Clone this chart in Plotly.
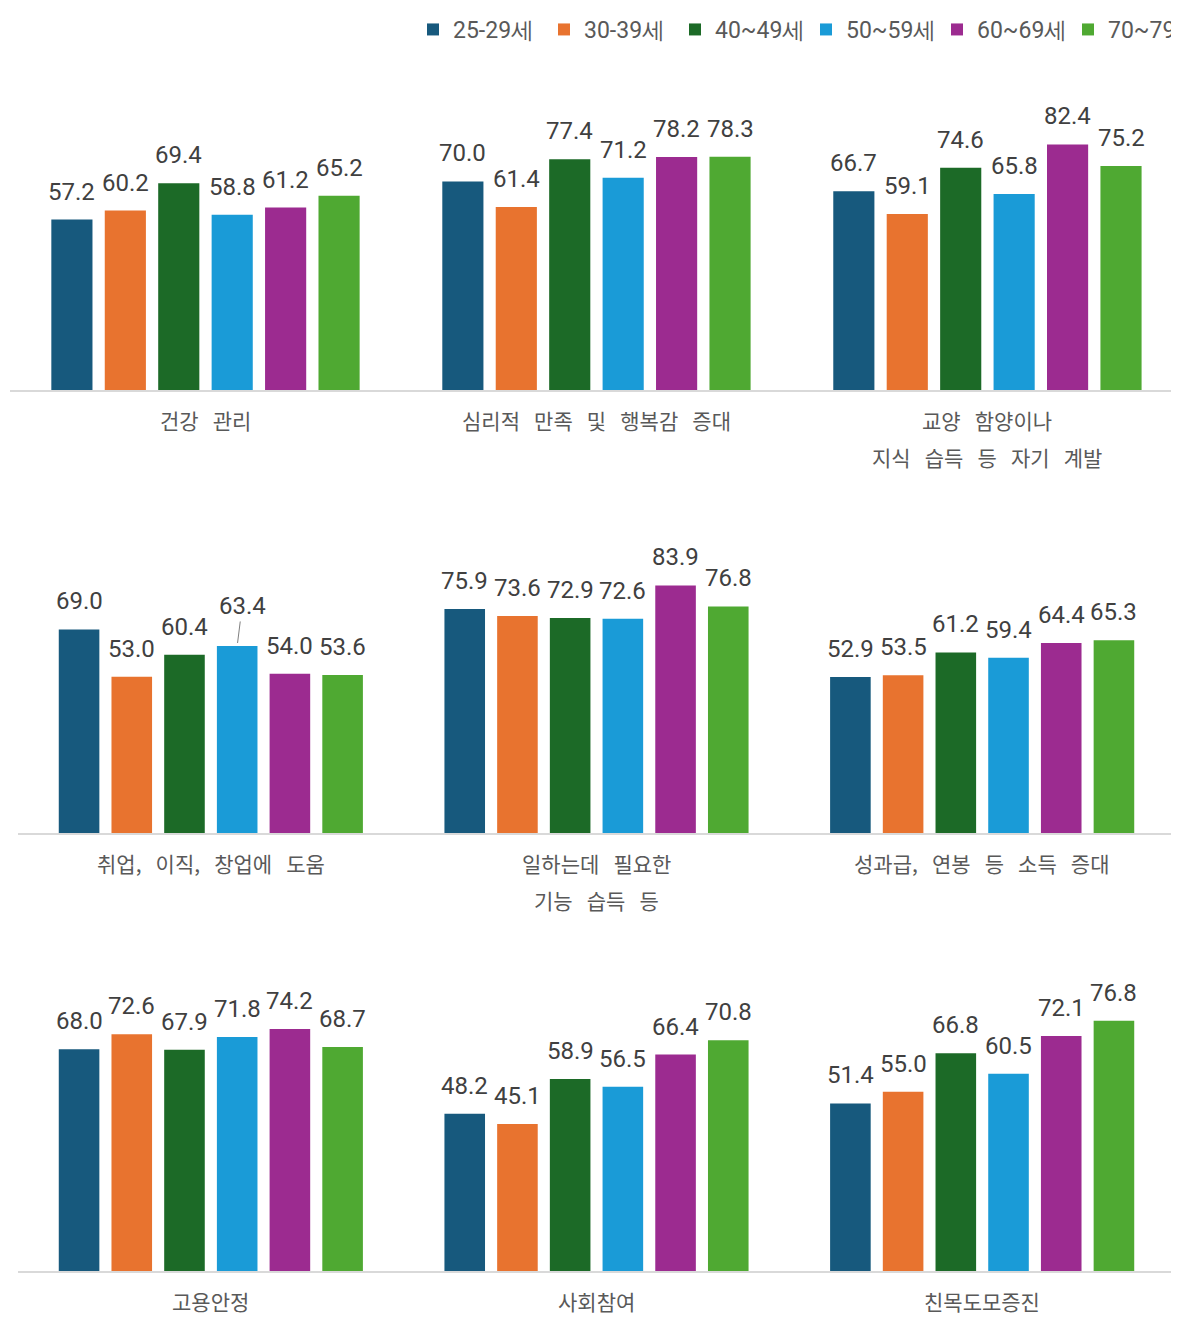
import plotly.graph_objects as go

# === 데이터 ===
groups = ["25-29세", "30-39세", "40~49세", "50~59세", "60~69세", "70~79세"]
colors = ["#17597d", "#e8732f", "#1c6a27", "#1a9bd7", "#9c2b90", "#4fa932"]

cats_row1 = ["건강 관리", "심리적 만족 및 행복감 증대", "교양 함양이나\n지식 습득 등 자기 계발"]
cats_row2 = ["취업, 이직, 창업에 도움", "일하는데 필요한\n기능 습득 등", "성과급, 연봉 등 소득 증대"]
cats_row3 = ["고용안정", "사회참여", "친목도모증진"]

v_25_29 = [57.2, 70.0, 66.7, 69.0, 75.9, 52.9, 68.0, 48.2, 51.4]
v_30_39 = [60.2, 61.4, 59.1, 53.0, 73.6, 53.5, 72.6, 45.1, 55.0]
v_40_49 = [69.4, 77.4, 74.6, 60.4, 72.9, 61.2, 67.9, 58.9, 66.8]
v_50_59 = [58.8, 71.2, 65.8, 63.4, 72.6, 59.4, 71.8, 56.5, 60.5]
v_60_69 = [61.2, 78.2, 82.4, 54.0, 83.9, 64.4, 74.2, 66.4, 72.1]
v_70_79 = [65.2, 78.3, 75.2, 53.6, 76.8, 65.3, 68.7, 70.8, 76.8]
values = [v_25_29, v_30_39, v_40_49, v_50_59, v_60_69, v_70_79]

# === 배치 (페이지 여백 8px 보정) ===
OFF = 8
W, H = 1179 - OFF, 1320 - OFF
NUM_FONT = "Roboto, Noto Sans, sans-serif"
KR_FONT = "Noto Sans CJK KR, sans-serif"
BARGAP, GROUPGAP = 0.18, 0.23

rows = [
    # (categories, x px from, x px to, baseline px, top px, y max, x range end)
    (cats_row1, 10, 1179, 390, 100, 290 / 2.98, 2.49),
    (cats_row2, 18, 1175, 833, 545, 288 / 2.95, 2.5),
    (cats_row3, 18, 1175, 1271, 985, 286 / 3.26, 2.5),
]

fig = go.Figure()
annotations = []

for r, (cats, x0, x1, base, top, ymax, xend) in enumerate(rows):
    ax = "" if r == 0 else str(r + 1)
    keys = [c.replace("\n", " ") for c in cats]
    for i, g in enumerate(groups):
        fig.add_bar(
            x=keys, y=values[i][r * 3:(r + 1) * 3],
            name=g, marker_color=colors[i], marker_line_width=0,
            xaxis="x" + ax, yaxis="y" + ax,
            legendgroup=g, showlegend=(r == 0),
        )
    fig.layout["xaxis" + ax] = dict(
        domain=[(x0 - OFF) / W, min(1, (x1 - OFF) / W)], anchor="y" + ax,
        range=[-0.5, xend],
        showline=True, linecolor="#d9d9d9", linewidth=1.5,
        showticklabels=False, ticks="", showgrid=False, zeroline=False,
    )
    fig.layout["yaxis" + ax] = dict(
        domain=[1 - (base - OFF) / H, 1 - (top - OFF) / H], anchor="x" + ax,
        range=[0, ymax], visible=False,
    )

    cat_px = (min(x1, 1179) - x0) / (xend + 0.5)
    pitch = cat_px * (1 - BARGAP) / len(groups)

    # 값 라벨
    for i in range(len(groups)):
        for j, k in enumerate(keys):
            v = values[i][r * 3 + j]
            a = dict(
                x=k, y=v, xref="x" + ax, yref="y" + ax,
                text=f"{v:.1f}", xshift=(i - 2.5) * pitch,
                font=dict(family=NUM_FONT, size=24, color="#404040"),
                showarrow=False, yanchor="bottom", yshift=12,
            )
            if r == 1 and j == 0 and i == 3:
                # 리더선이 있는 라벨
                a.update(showarrow=True, arrowhead=0, arrowwidth=1,
                         arrowcolor="#808080", ax=5, ay=-40, yshift=0,
                         yanchor="middle", standoff=3, startstandoff=0)
            annotations.append(a)

    # 항목 이름
    for k, c in zip(keys, cats):
        for n, line in enumerate(c.split("\n")):
            annotations.append(dict(
                x=k, xref="x" + ax, y=1 - (base + 30 + 37 * n - OFF) / H, yref="paper",
                text=line.replace(" ", "\u00a0\u00a0\u00a0"),
                font=dict(family=KR_FONT, size=21, color="#595959"),
                showarrow=False, yanchor="middle",
            ))

fig.update_layout(
    width=W, height=H,
    barmode="group", bargap=BARGAP, bargroupgap=GROUPGAP,
    margin=dict(l=0, r=0, t=0, b=0, autoexpand=False),
    paper_bgcolor="white", plot_bgcolor="white",
    annotations=annotations,
    legend=dict(
        orientation="h", x=(413 - OFF) / W, xanchor="left", y=1.0, yanchor="top",
        font=dict(family=NUM_FONT, size=23, color="#595959"),
        itemwidth=30, traceorder="normal", entrywidth=86,
    ),
)

fig.write_html("out.html")
